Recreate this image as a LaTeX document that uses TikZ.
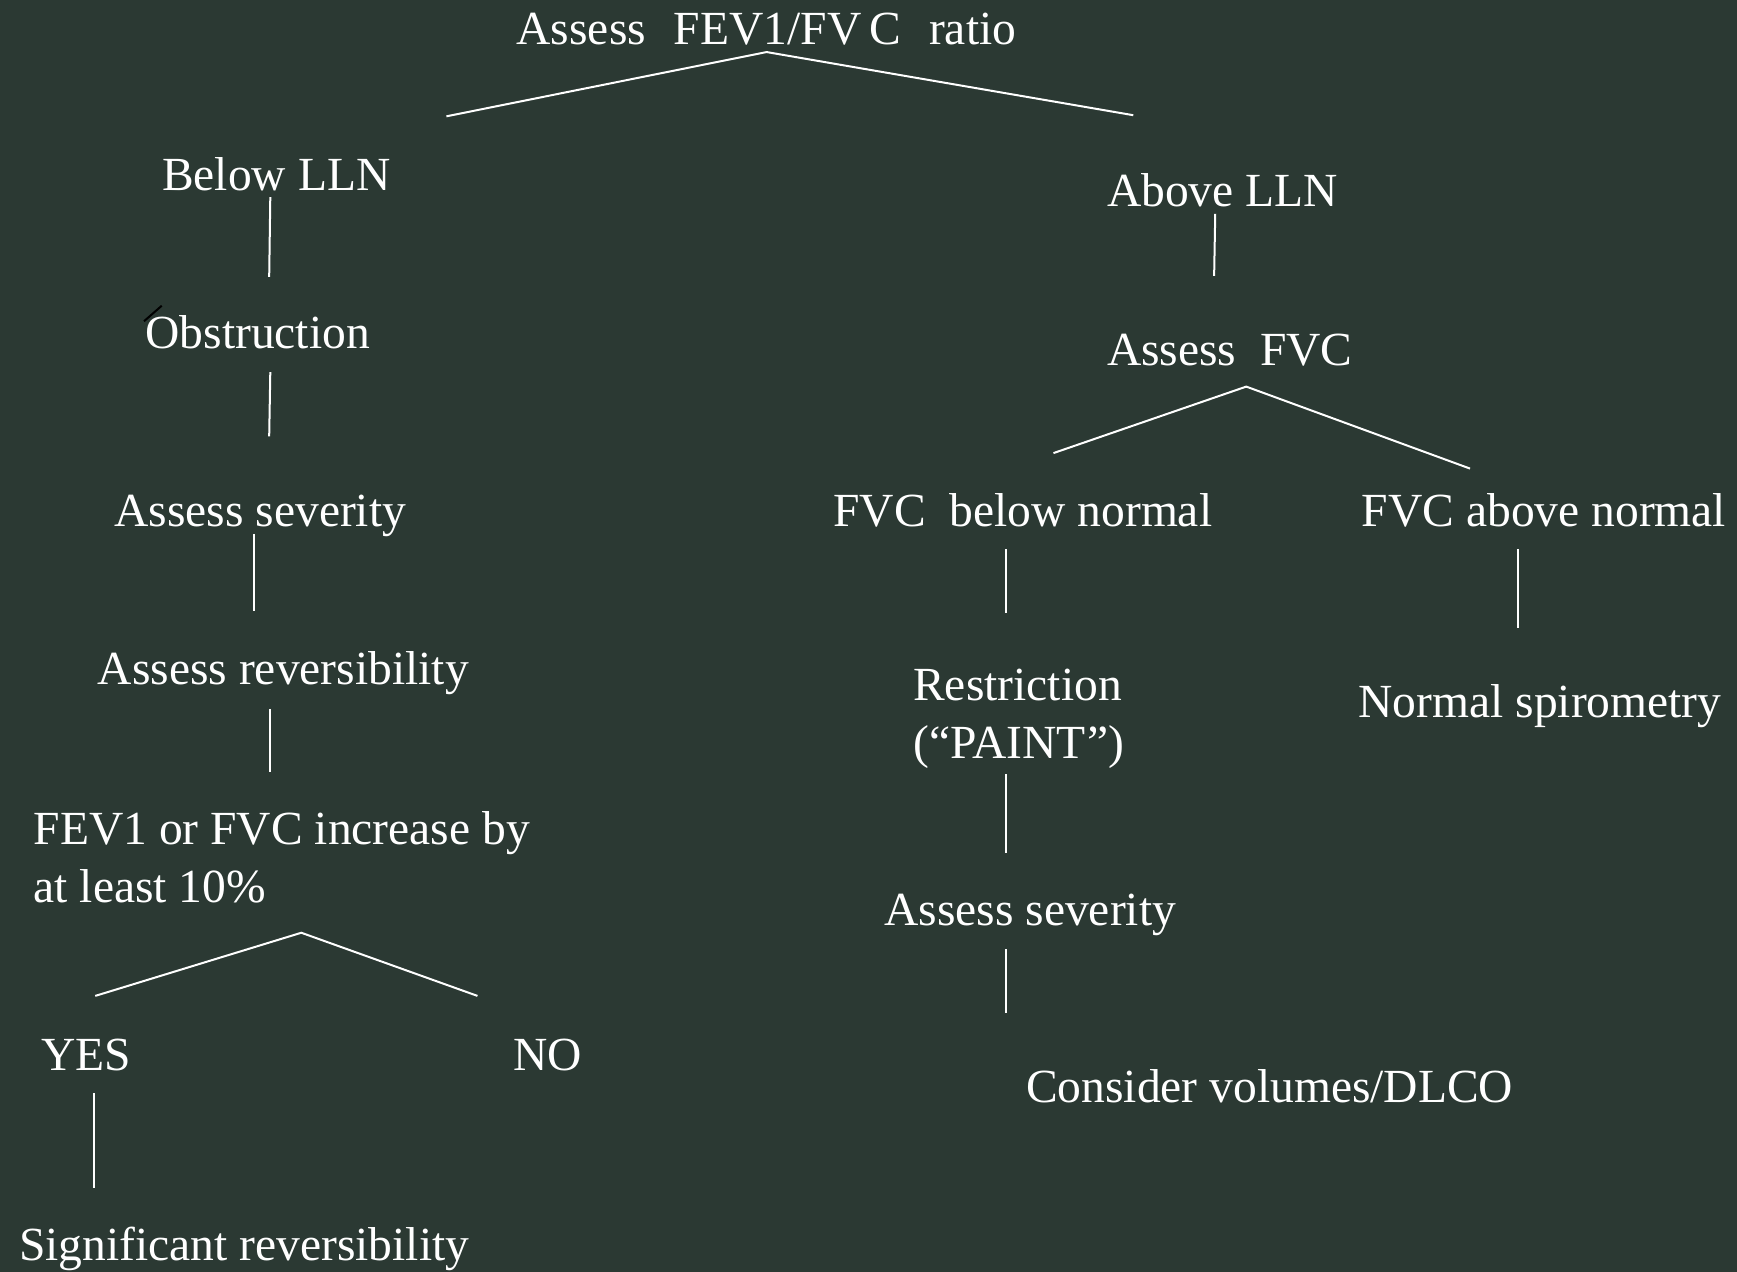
\documentclass[tikz,border=0pt]{standalone}
\usepackage{fontspec}
\setmainfont{Liberation Serif}
\definecolor{bg}{RGB}{43,57,51}
\begin{document}
\begin{tikzpicture}[x=0.55389pt,y=-0.55389pt,
  lbl/.style={anchor=base west,inner sep=0pt,text=white,font=\fontsize{23.76}{29}\selectfont,align=left},
  conn/.style={draw=white,line width=1pt}]
\fill[bg] (0,0) rectangle (1568,1148);
\useasboundingbox (0,0) rectangle (1568,1148);
% left branch
\node[lbl] (top) at (466,40) {Assess\hspace{14pt}FEV1/FV\hspace{4pt}C\hspace{14pt}ratio};
\node[lbl] (below) at (146,172) {Below LLN};
\node[lbl] (obst) at (131,315) {Obstruction};
\node[lbl] (sev1) at (103,475) {Assess severity};
\node[lbl] (rev) at (88,618) {Assess reversibility};
\node[lbl] (inc) at (30,815) {FEV1 or FVC increase by\\at least 10\%};
\node[lbl] (yes) at (37,966) {YES};
\node[lbl] (no) at (463,966) {NO};
\node[lbl] (sig) at (17,1138) {Significant reversibility};
% right branch
\node[lbl] (above) at (999,186) {Above LLN};
\node[lbl] (fvc) at (999,330) {Assess\ \ FVC};
\node[lbl] (fbn) at (752,475) {FVC\ \ below normal};
\node[lbl] (fan) at (1229,475) {FVC above normal};
\node[lbl] (restr) at (824,685) {Restriction\\(“PAINT\kern1pt”)};
\node[lbl] (norm) at (1226,648) {Normal spirometry};
\node[lbl] (sev2) at (798,835) {Assess severity};
\node[lbl] (cons) at (926,995) {Consider volumes/DLCO};
% connector ends
\coordinate (t0) at (692,47);
\coordinate (t1) at (403,105);
\coordinate (t2) at (1023,104);
\coordinate (b0) at (244,178); \coordinate (b1) at (243,250);
\coordinate (o0) at (244,336); \coordinate (o1) at (243,394);
\coordinate (s0) at (229,482); \coordinate (s1) at (229,552);
\coordinate (r0) at (244,640); \coordinate (r1) at (244,697);
\coordinate (i0) at (272,842); \coordinate (i1) at (86,899); \coordinate (i2) at (431,899);
\coordinate (y0) at (85,987); \coordinate (y1) at (85,1072);
\coordinate (a0) at (1097,193); \coordinate (a1) at (1096,249);
\coordinate (f0) at (1125,349); \coordinate (f1) at (951,409); \coordinate (f2) at (1327,423);
\coordinate (fb0) at (908,496); \coordinate (fb1) at (908,553);
\coordinate (fa0) at (1370,496); \coordinate (fa1) at (1370,567);
\coordinate (re0) at (908,699); \coordinate (re1) at (908,770);
\coordinate (sv0) at (908,857); \coordinate (sv1) at (908,914);
\draw[conn] (t1) -- (t0) -- (t2);
\draw[conn] (b0) -- (b1);
\draw[conn] (o0) -- (o1);
\draw[conn] (s0) -- (s1);
\draw[conn] (r0) -- (r1);
\draw[conn] (i1) -- (i0) -- (i2);
\draw[conn] (y0) -- (y1);
\draw[conn] (a0) -- (a1);
\draw[conn] (f1) -- (f0) -- (f2);
\draw[conn] (fb0) -- (fb1);
\draw[conn] (fa0) -- (fa1);
\draw[conn] (re0) -- (re1);
\draw[conn] (sv0) -- (sv1);
% small dark mark near Obstruction
\coordinate (m0) at (130,290); \coordinate (m1) at (146,276);
\draw[black,line width=1pt] (m0) -- (m1);
\end{tikzpicture}
\end{document}
